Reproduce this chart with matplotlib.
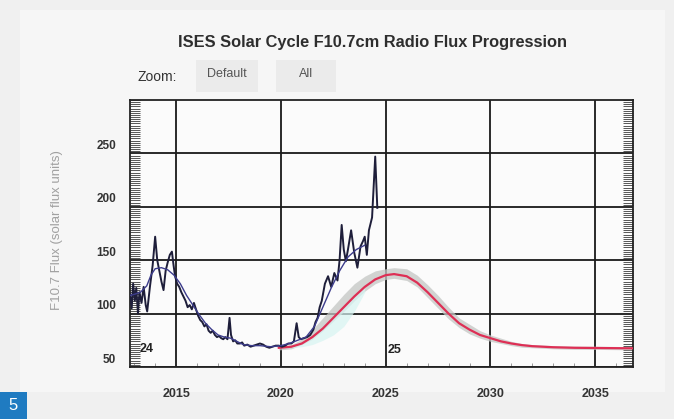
import numpy as np
import matplotlib
matplotlib.use("Agg")
import matplotlib.pyplot as plt
from matplotlib.patches import Rectangle
from matplotlib.transforms import ScaledTranslation

plt.rcParams['font.family'] = ['Liberation Sans', 'DejaVu Sans']

# ---------------- data ----------------
obs_years = [2012.80, 2012.88, 2012.95, 2013.03, 2013.10, 2013.18, 2013.25, 2013.35, 2013.45, 2013.55,
             2013.62, 2013.75, 2013.88, 2014.00, 2014.10, 2014.20, 2014.30, 2014.40, 2014.50, 2014.60,
             2014.70, 2014.80, 2014.88, 2014.95, 2015.05, 2015.15, 2015.25, 2015.35, 2015.45, 2015.55,
             2015.65, 2015.75, 2015.85, 2015.95, 2016.05, 2016.15, 2016.25, 2016.35, 2016.45, 2016.55,
             2016.65, 2016.75, 2016.85, 2016.95, 2017.05, 2017.15, 2017.25, 2017.35, 2017.45, 2017.55,
             2017.62, 2017.72, 2017.82, 2017.92, 2018.05, 2018.15, 2018.25, 2018.40, 2018.55, 2018.70,
             2018.85, 2019.00, 2019.15, 2019.30, 2019.45, 2019.60, 2019.75, 2019.90, 2020.05, 2020.20,
             2020.35, 2020.50, 2020.62, 2020.75, 2020.85, 2020.95, 2021.10, 2021.25, 2021.40, 2021.55,
             2021.65, 2021.75, 2021.85, 2021.95, 2022.10, 2022.25, 2022.40, 2022.55, 2022.70, 2022.80,
             2022.90, 2023.00, 2023.10, 2023.20, 2023.35, 2023.50, 2023.65, 2023.80, 2023.92, 2024.00,
             2024.10, 2024.20, 2024.35, 2024.50, 2024.60]
obs_flux = [118, 105, 128, 112, 124, 100, 120, 110, 125, 108,
            102, 125, 145, 172, 150, 140, 130, 122, 140, 148,
            155, 158, 145, 135, 128, 125, 120, 116, 112, 106,
            108, 104, 110, 104, 98, 94, 92, 88, 90, 84,
            82, 84, 80, 78, 79, 77, 76, 78, 76, 96,
            80, 74, 75, 72, 72, 73, 70, 71, 69, 70,
            71, 72, 71, 69, 68, 69, 70, 70, 69, 70,
            72, 72, 74, 91, 78, 76, 77, 78, 80, 85,
            92, 96, 106, 112, 128, 135, 125, 138, 131, 150,
            183, 160, 149, 160, 178, 157, 143, 163, 168, 172,
            155, 178, 190, 247, 199]

smooth_years = [2012.8, 2013.0, 2013.3, 2013.6, 2013.8, 2014.0, 2014.3, 2014.6, 2014.9, 2015.2,
                2015.5, 2015.8, 2016.1, 2016.4, 2016.7, 2017.0, 2017.3, 2017.6, 2017.9, 2018.2,
                2018.6, 2019.0, 2019.5, 2020.0, 2020.4, 2020.8, 2021.2, 2021.6, 2022.0, 2022.4,
                2022.8, 2023.2, 2023.6, 2024.0]
smooth_flux = [117, 118, 120, 126, 136, 142, 143, 141, 136, 128,
               117, 108, 99, 91, 85, 80, 78, 77, 74, 71,
               70, 70, 69, 70, 72, 75, 78, 88, 106, 124,
               140, 153, 160, 164]

pred_years = [2019.9, 2020.5, 2021.0, 2021.5, 2022.0, 2022.5, 2023.0, 2023.5, 2024.0, 2024.5,
              2025.0, 2025.4, 2026.0, 2026.5, 2027.0, 2027.5, 2028.0, 2028.5, 2029.0, 2029.5,
              2030.0, 2030.5, 2031.0, 2031.5, 2032.0, 2033.0, 2034.0, 2035.0, 2036.8]
pred_flux = [68, 69, 72, 78, 86, 96, 106, 116, 125, 132,
             136, 137, 135, 129, 120, 110, 100, 91, 85, 80,
             77, 74, 72, 70.5, 69.5, 68.5, 68, 67.8, 67.5]
pred_upper = [69, 71, 76, 85, 96, 107, 118, 128, 135, 140,
              142, 143, 142, 136, 127, 117, 106, 96, 90, 84,
              80, 77, 74, 72, 71, 70, 69.5, 69.5, 69]
pred_lower = [66, 67, 71, 76, 84, 93, 102, 112, 121, 128,
              132, 133, 131, 125, 115, 105, 95, 87, 81, 77,
              74, 72, 70, 68.5, 68, 67, 66.5, 66.5, 66]
cyan_years = [2020.5, 2021.0, 2021.5, 2022.0, 2022.5, 2023.0, 2023.5, 2024.0]
cyan_low = [68, 69, 71, 75, 80, 88, 102, 120]
cyan_high = [69, 72, 78, 86, 96, 106, 116, 125]

x_ticks = [2015, 2020, 2025, 2030, 2035]
y_ticks = [50, 100, 150, 200, 250]

title = "ISES Solar Cycle F10.7cm Radio Flux Progression"
ylabel = "F10.7 Flux (solar flux units)"

# ---------------- figure ----------------
W, H = 674, 419
fig = plt.figure(figsize=(W / 100, H / 100), dpi=100, facecolor='#f0f0f0')
fig.patches.append(Rectangle((20 / W, 1 - 392 / H), 645 / W, 382 / H, transform=fig.transFigure,
                             facecolor='#f6f6f6', edgecolor='none', zorder=0))

ax = fig.add_axes([130 / W, 1 - 367 / H, 503 / W, 267 / H])
ax.set_zorder(5)
ax.set_facecolor('#fbfbfb')
ax.set_xlim(2012.8, 2036.8)
ax.set_ylim(50, 300)

ax.fill_between(pred_years, pred_lower, pred_upper, color='#c4c6c4', alpha=0.75, lw=0, zorder=2)
ax.fill_between(cyan_years, cyan_low, cyan_high, color='#d6f4f2', alpha=0.7, lw=0, zorder=2)
ax.plot(pred_years, pred_flux, color='#de2f55', lw=1.6, zorder=3)
ax.plot(obs_years, obs_flux, color='#1e1e3a', lw=1.4, zorder=4)
ax.plot(smooth_years, smooth_flux, color='#3c3c8c', lw=1.0, zorder=5)

ax.set_xticks(x_ticks)
ax.set_yticks(y_ticks)
ax.set_xticklabels([str(v) for v in x_ticks], fontsize=9, fontweight='bold', color='#333333')
ax.set_yticklabels([str(v) for v in y_ticks], fontsize=8.5, fontweight='bold', color='#333333')
ax.set_xticks(np.arange(2013, 2037, 1), minor=True)
ax.set_yticks(np.arange(50, 301, 2), minor=True)
ax.tick_params(axis='both', which='major', length=0)
ax.tick_params(axis='x', which='major', pad=15)
ax.tick_params(axis='y', which='major', pad=10)
ax.tick_params(axis='y', which='minor', direction='in', length=7, width=0.7, color='#555555',
               left=True, right=True)
ax.tick_params(axis='x', which='minor', direction='in', length=3, width=0.7, color='#999999')
off = ScaledTranslation(0, 0.09, fig.dpi_scale_trans)
for lbl in ax.get_yticklabels():
    lbl.set_transform(lbl.get_transform() + off)

ax.grid(True, which='major', color='#1a1a1a', lw=1.3, zorder=1)
ax.set_axisbelow(True)
for s in ax.spines.values():
    s.set_color('#222222')
    s.set_linewidth(1.3)

ax.text(147 / W, 1 - 349 / H, "24", transform=fig.transFigure, ha='center', va='center',
        fontsize=9, fontweight='bold', color='#222222', zorder=6)
ax.text(395 / W, 1 - 350 / H, "25", transform=fig.transFigure, ha='center', va='center',
        fontsize=9, fontweight='bold', color='#222222', zorder=6)

fig.text(57 / W, 1 - 230 / H, ylabel, rotation=90, ha='center', va='center', fontsize=9.5,
         color='#a0a0a0')
fig.text(373 / W, 1 - 42 / H, title, ha='center', va='center', fontsize=11.8,
         fontweight='bold', color='#2e2e2e')

# zoom buttons
fig.text(157 / W, 1 - 77 / H, "Zoom:", ha='center', va='center', fontsize=10, color='#333333')
for (x0, x1, lab) in [(196, 258, "Default"), (276, 336, "All")]:
    fig.patches.append(Rectangle((x0 / W, 1 - 92 / H), (x1 - x0) / W, 32 / H, transform=fig.transFigure,
                                 facecolor='#ebebeb', edgecolor='none', zorder=1))
    fig.text((x0 + x1) / 2 / W, 1 - 74 / H, lab, ha='center', va='center', fontsize=9,
             color='#555555')

# badge
fig.patches.append(Rectangle((0, 0), 27 / W, 27 / H, transform=fig.transFigure,
                             facecolor='#1f7bc1', edgecolor='none', zorder=1))
fig.text(13.5 / W, 1 - 405 / H, "5", ha='center', va='center', fontsize=12, color='white')

fig.savefig("out.png", dpi=100, facecolor=fig.get_facecolor())
